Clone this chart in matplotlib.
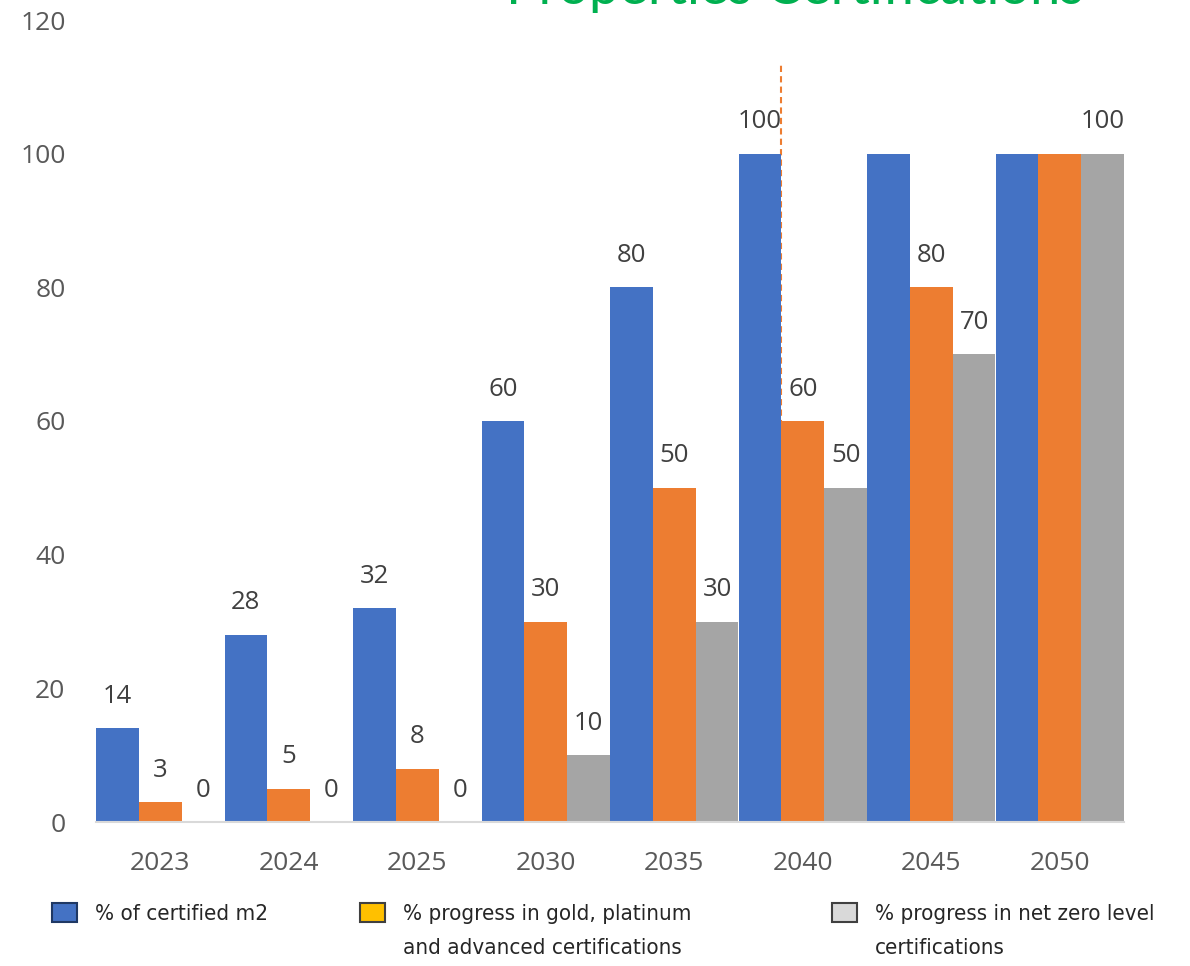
import numpy as np
import matplotlib
matplotlib.use("Agg")
import matplotlib.pyplot as plt
from matplotlib.patches import Rectangle

years = ["2023", "2024", "2025", "2030", "2035", "2040", "2045", "2050"]
certified = [14, 28, 32, 60, 80, 100, 100, 100]
gold_platinum = [3, 5, 8, 30, 50, 60, 80, 100]
net_zero = [0, 0, 0, 10, 30, 50, 70, 100]

# labels as printed on the chart (None = no label shown)
certified_labels = [14, 28, 32, 60, 80, 100, None, None]
gold_labels = [3, 5, 8, 30, 50, 60, 80, None]
net_zero_labels = [0, 0, 0, 10, 30, 50, 70, 100]

legend_texts = ["% of certified m2",
                "% progress in gold, platinum\nand advanced certifications",
                "% progress in net zero level\ncertifications"]

BLUE = "#4472C4"
ORANGE = "#ED7D31"
GRAY = "#A5A5A5"
TXT = "#595959"

plt.rcParams['font.family'] = ['Open Sans', 'DejaVu Sans']

fig = plt.figure(figsize=(11.9, 9.66), dpi=100)
ax = fig.add_axes([96 / 1190, 144 / 966, 1028 / 1190, 802 / 966])

x = np.arange(len(years))
w = 1 / 3
series = [(certified, certified_labels, BLUE),
          (gold_platinum, gold_labels, ORANGE),
          (net_zero, net_zero_labels, GRAY)]
for k, (vals, labs, col) in enumerate(series):
    pos = x + (k - 1) * w
    ax.bar(pos, vals, width=w, color=col, zorder=2)
    for p, v, lab in zip(pos, vals, labs):
        if lab is None:
            continue
        ax.annotate(str(lab), (p, v), xytext=(0, 23), textcoords="offset points",
                    ha="center", va="center", fontsize=18.5, color="#404040")

# dashed marker line at the 2040 group
ax.plot([x[5] - w / 2] * 2, [0, 113.7], ls=(0, (3, 2)), color=ORANGE, lw=1.5, zorder=1)

ax.set_xlim(-0.5, len(years) - 0.5)
ax.set_ylim(0, 120)
ax.set_yticks(range(0, 121, 20))
ax.set_xticks(x)
ax.set_xticklabels(years)
ax.tick_params(axis="both", length=0, labelsize=19, labelcolor=TXT)
ax.tick_params(axis="x", pad=21)
ax.tick_params(axis="y", pad=22)
for s in ["top", "right", "left"]:
    ax.spines[s].set_visible(False)
ax.spines["bottom"].set_color("#D9D9D9")
ax.spines["bottom"].set_linewidth(1.5)

# title, cut off at the top edge
fig.text(795 / 1190, 1 - 4 / 966, "Properties Certifications", ha="center", va="baseline",
         fontsize=39, color="#00B050", family=["Lato", "DejaVu Sans"])

# legend drawn by hand below the chart
leg_x = [52, 360, 832]
leg_fill = [BLUE, "#FFC000", "#D9D9D9"]
leg_edge = ["#1F3864", "#404040", "#404040"]
for lx, fc, ec, t in zip(leg_x, leg_fill, leg_edge, legend_texts):
    fig.patches.append(Rectangle((lx / 1190, 1 - 922 / 966), 25 / 1190, 19 / 966,
                                 transform=fig.transFigure, facecolor=fc,
                                 edgecolor=ec, lw=1.5))
    fig.text((lx + 43) / 1190, 1 - 904 / 966, t, ha="left", va="top", fontsize=16,
             color="#262626", linespacing=1.85,
             family=["DejaVu Sans"], fontstretch="condensed")

fig.savefig("out.png", dpi=100)
